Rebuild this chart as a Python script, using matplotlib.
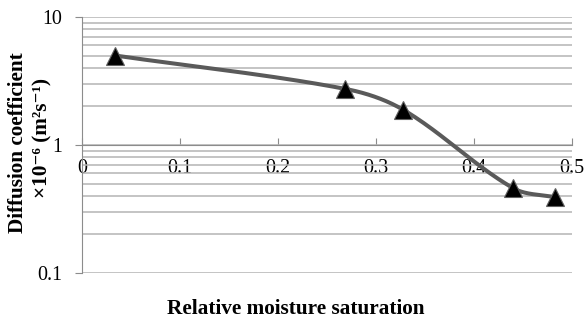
import numpy as np
import matplotlib
matplotlib.use("Agg")
import matplotlib.pyplot as plt
from matplotlib.ticker import LogLocator, FixedLocator, NullFormatter

saturation = [0.034, 0.268, 0.328, 0.440, 0.483]
diffusion = [5.0, 2.75, 1.88, 0.46, 0.39]
x_ticks = [0, 0.1, 0.2, 0.3, 0.4, 0.5]
x_labels = ["0", "0.1", "0.2", "0.3", "0.4", "0.5"]
y_ticks = [0.1, 1, 10]
y_labels = ["0.1", "1", "10"]

plt.rcParams['font.family'] = ['Liberation Serif', 'DejaVu Serif']
plt.rcParams['mathtext.fontset'] = 'custom'
plt.rcParams['mathtext.rm'] = 'Liberation Serif:bold'
plt.rcParams['mathtext.bf'] = 'Liberation Serif:bold'
plt.rcParams['mathtext.it'] = 'Liberation Serif:bold:italic'

fig = plt.figure(figsize=(5.85, 3.22), dpi=100)
ax = fig.add_axes([82 / 585, 1 - 273 / 322, 490 / 585, 256 / 322])
ax.set_yscale('log')
ax.set_xlim(0, 0.5)
ax.set_ylim(0.1, 10)


def smooth(ax, xs, ys, n=40):
    # smoothed line like excel: bezier through the points in screen space
    pts = ax.transData.transform(np.column_stack([xs, ys]))
    p = np.vstack([pts[0], pts, pts[-1]])
    out = []
    for i in range(1, len(p) - 2):
        p0, p1, p2, p3 = p[i - 1], p[i], p[i + 1], p[i + 2]
        d = np.linalg.norm(p2 - p1)
        t1 = p2 - p0
        t2 = p3 - p1
        c1 = p1 + t1 / np.linalg.norm(t1) * d / 3
        c2 = p2 - t2 / np.linalg.norm(t2) * d / 3
        t = np.linspace(0, 1, n)[:, None]
        seg = ((1 - t) ** 3 * p1 + 3 * (1 - t) ** 2 * t * c1
               + 3 * (1 - t) * t ** 2 * c2 + t ** 3 * p2)
        out.append(seg)
    out = np.vstack(out)
    return ax.transData.inverted().transform(out)


curve = smooth(ax, saturation, diffusion)
ax.plot(curve[:, 0], curve[:, 1], color='#5a5a5a', lw=2.9, solid_capstyle='round', zorder=3)
ax.plot(saturation, diffusion, ls='none', marker='^', ms=13.5, mfc='black',
        mec='#606060', mew=0.8, zorder=4)

grid_c = '#b4b4b4'
ax.yaxis.set_major_locator(FixedLocator(y_ticks))
ax.yaxis.set_minor_locator(LogLocator(base=10, subs=np.arange(2, 10)))
ax.yaxis.set_minor_formatter(NullFormatter())
ax.set_yticklabels(y_labels)
ax.grid(axis='y', which='both', color=grid_c, lw=1.1)
ax.set_axisbelow(True)

ax.spines['top'].set_visible(False)
ax.spines['right'].set_visible(False)
ax.spines['left'].set_color('#8c8c8c')
ax.spines['bottom'].set_position(('data', 1))
ax.spines['bottom'].set_color('#8c8c8c')

ax.set_xticks(x_ticks)
ax.set_xticklabels(x_labels)
ax.tick_params(axis='x', direction='in', length=5, color='#8c8c8c', labelsize=14.4, pad=10)
ax.tick_params(axis='y', which='major', direction='out', length=5, color='#8c8c8c', labelsize=14.4, pad=9)
ax.tick_params(axis='y', which='minor', length=0)

fig.text(0.505, 0.04, 'Relative moisture saturation', ha='center', va='center',
         fontsize=15.3, fontweight='bold')
fig.text(0.031, 0.556, 'Diffusion coefficient', rotation=90, ha='center', va='center',
         fontsize=15.3, fontweight='bold')
fig.text(0.073, 0.57, '×10⁻⁶ (m²s⁻¹)', rotation=90, ha='center', va='center',
         fontsize=15.3, fontweight='bold')

fig.savefig('out.png', dpi=100)
